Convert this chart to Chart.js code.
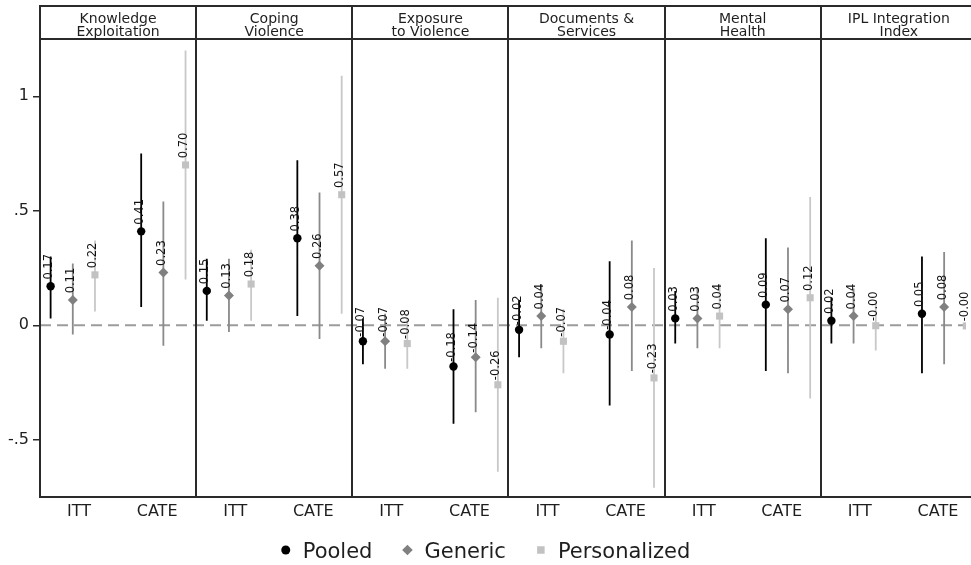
<!DOCTYPE html>
<html>
<head>
<meta charset="utf-8">
<script src="https://cdn.jsdelivr.net/npm/chart.js@4.4.1/dist/chart.umd.min.js"></script>
<style>
  html, body { margin: 0; padding: 0; background: #ffffff; }
  canvas { display: block; }
</style>
</head>
<body>
<canvas id="chart" width="971" height="565"></canvas>
<script>
// Outcome panels (two-line strip titles) and the two estimands shown in each
const outcomes = [
  ["Knowledge", "Exploitation"],
  ["Coping", "Violence"],
  ["Exposure", "to Violence"],
  ["Documents &", "Services"],
  ["Mental", "Health"],
  ["IPL Integration", "Index"]
];
const estimands = ["ITT", "CATE"];
const seriesNames = ["Pooled", "Generic", "Personalized"];

// Point estimates and 95% CI bounds, outcome by outcome: ITT then CATE
const pooledEst = [0.17, 0.41, 0.15, 0.38, -0.07, -0.18, -0.02, -0.04, 0.03, 0.09, 0.02, 0.05];
const pooledLo  = [0.03, 0.08, 0.02, 0.04, -0.17, -0.43, -0.14, -0.35, -0.08, -0.20, -0.08, -0.21];
const pooledHi  = [0.30, 0.75, 0.29, 0.72, 0.03, 0.07, 0.11, 0.28, 0.15, 0.38, 0.12, 0.30];

const genericEst = [0.11, 0.23, 0.13, 0.26, -0.07, -0.14, 0.04, 0.08, 0.03, 0.07, 0.04, 0.08];
const genericLo  = [-0.04, -0.09, -0.03, -0.06, -0.19, -0.38, -0.10, -0.20, -0.10, -0.21, -0.08, -0.17];
const genericHi  = [0.27, 0.54, 0.29, 0.58, 0.05, 0.11, 0.18, 0.37, 0.16, 0.34, 0.16, 0.32];

const personalizedEst = [0.22, 0.70, 0.18, 0.57, -0.08, -0.26, -0.07, -0.23, 0.04, 0.12, -0.002, -0.003];
const personalizedLo  = [0.06, 0.20, 0.02, 0.05, -0.19, -0.64, -0.21, -0.71, -0.10, -0.32, -0.11, -0.38];
const personalizedHi  = [0.37, 1.20, 0.33, 1.09, 0.03, 0.12, 0.07, 0.25, 0.18, 0.56, 0.11, 0.38];

const yTickValues = [-0.5, 0, 0.5, 1];
const yTickLabels = ["-.5", "0", ".5", "1"];

// ---- layout of the panelled x axis: one unit per outcome panel ----
const FONT = "'DejaVu Sans', 'Liberation Sans', sans-serif";
const visiblePanels = 5.93;          // the last panel runs past the right edge
const labelPos = [0.25, 0.75];       // estimand label positions inside a panel
const groupCenter = [0.21, 0.79];    // centre of each marker cluster
const seriesGap = 0.142;             // spacing between the three series

const seriesData = [
  { est: pooledEst, lo: pooledLo, hi: pooledHi },
  { est: genericEst, lo: genericLo, hi: genericHi },
  { est: personalizedEst, lo: personalizedLo, hi: personalizedHi }
];
const seriesStyle = [
  { marker: '#000000', bar: '#000000', pointStyle: 'circle', radius: 4.2 },
  { marker: '#808080', bar: '#8a8a8a', pointStyle: 'rectRot', radius: 5.0 },
  { marker: '#c2c2c2', bar: '#c8c8c8', pointStyle: 'rect', radius: 5.0 }
];

function xFor(idx, s) {
  const o = Math.floor(idx / estimands.length);
  const g = idx % estimands.length;
  return o + groupCenter[g] + (s - 1) * seriesGap;
}

const datasets = [];
// dashed reference line at zero
datasets.push({
  type: 'line',
  data: [{ x: 0, y: 0 }, { x: visiblePanels, y: 0 }],
  borderColor: '#9c9c9c',
  borderWidth: 2,
  borderDash: [11, 6],
  pointRadius: 0,
  order: 10
});
// confidence intervals as vertical segments
seriesData.forEach((sd, s) => {
  const pts = [];
  sd.est.forEach((_, i) => {
    const x = xFor(i, s);
    pts.push({ x, y: sd.lo[i] }, { x, y: sd.hi[i] }, { x, y: null });
  });
  datasets.push({
    type: 'line',
    data: pts,
    borderColor: seriesStyle[s].bar,
    borderWidth: 1.8,
    pointRadius: 0,
    spanGaps: false,
    order: 5
  });
});
// point estimates
seriesData.forEach((sd, s) => {
  datasets.push({
    type: 'scatter',
    label: seriesNames[s],
    data: sd.est.map((v, i) => ({ x: xFor(i, s), y: v })),
    backgroundColor: seriesStyle[s].marker,
    borderColor: seriesStyle[s].marker,
    borderWidth: 0,
    pointStyle: seriesStyle[s].pointStyle,
    pointRadius: seriesStyle[s].radius,
    pointHoverRadius: seriesStyle[s].radius,
    order: 1,
    isEstimate: true
  });
});

const frameColor = '#2a2a2a';

// panel frame, strip titles and the series key
const panelPlugin = {
  id: 'panels',
  afterDraw(chart) {
    const { ctx, chartArea } = chart;
    const xs = chart.scales.x;
    const stripTop = 6;
    ctx.save();
    ctx.strokeStyle = frameColor;
    ctx.lineWidth = 2;
    ctx.beginPath();
    ctx.moveTo(chartArea.left, stripTop); ctx.lineTo(chart.width, stripTop);
    ctx.moveTo(chartArea.left, chartArea.top); ctx.lineTo(chart.width, chartArea.top);
    ctx.moveTo(chartArea.left - 1, chartArea.bottom); ctx.lineTo(chart.width, chartArea.bottom);
    for (let p = 0; p < outcomes.length; p++) {
      const px = Math.round(xs.getPixelForValue(p));
      ctx.moveTo(px, stripTop - 1); ctx.lineTo(px, chartArea.bottom + 1);
    }
    ctx.stroke();

    // strip titles
    ctx.fillStyle = '#1e1e1e';
    ctx.font = '14px ' + FONT;
    ctx.textAlign = 'center';
    ctx.textBaseline = 'alphabetic';
    outcomes.forEach((lines, p) => {
      const cx = (xs.getPixelForValue(p) + xs.getPixelForValue(p + 1)) / 2;
      lines.forEach((t, k) => ctx.fillText(t, cx, 23 + k * 13));
    });

    // series key
    ctx.font = '21px ' + FONT;
    const symGap = 17, itemGap = 35;
    const widths = seriesNames.map(n => ctx.measureText(n).width);
    let total = 5;
    widths.forEach((w, i) => { total += symGap + w + (i < widths.length - 1 ? itemGap : 0); });
    let x = chart.width / 2 - total / 2 + 5;
    const ky = 550;
    ctx.textAlign = 'left';
    seriesNames.forEach((n, i) => {
      const st = seriesStyle[i];
      ctx.fillStyle = st.marker;
      ctx.strokeStyle = st.marker;
      Chart.helpers.drawPoint(ctx, { pointStyle: st.pointStyle, radius: st.radius + 0.3, borderWidth: 0 }, x, ky);
      ctx.fillStyle = '#1e1e1e';
      ctx.fillText(n, x + symGap, 558);
      x += symGap + widths[i] + itemGap;
    });
    ctx.restore();
  }
};

// rotated value labels above each estimate
const valueLabelPlugin = {
  id: 'valueLabels',
  afterDatasetsDraw(chart) {
    const { ctx } = chart;
    ctx.save();
    ctx.fillStyle = '#111111';
    ctx.font = '11.5px ' + FONT;
    ctx.textAlign = 'center';
    ctx.textBaseline = 'alphabetic';
    chart.data.datasets.forEach((ds, di) => {
      if (!ds.isEstimate) return;
      const meta = chart.getDatasetMeta(di);
      meta.data.forEach((pt, i) => {
        const v = ds.data[i].y;
        ctx.save();
        ctx.translate(pt.x + 1.5, pt.y - 19.5);
        ctx.rotate(-Math.PI / 2);
        ctx.fillText(v.toFixed(2), 0, 0);
        ctx.restore();
      });
    });
    ctx.restore();
  }
};

const xTicks = [];
outcomes.forEach((_, p) => labelPos.forEach(lp => xTicks.push(p + lp)));

new Chart(document.getElementById('chart'), {
  data: { datasets },
  options: {
    responsive: false,
    animation: false,
    devicePixelRatio: 1,
    layout: { padding: { top: 39, left: 0, right: 0, bottom: 0 } },
    plugins: { legend: { display: false }, tooltip: { enabled: false } },
    scales: {
      x: {
        type: 'linear',
        min: 0,
        max: visiblePanels,
        afterBuildTicks(scale) { scale.ticks = xTicks.map(v => ({ value: v })); },
        afterFit(scale) { scale.height = 68; },
        grid: { display: false, drawTicks: false },
        border: { display: false },
        ticks: {
          autoSkip: false,
          maxRotation: 0,
          padding: 5,
          color: '#1e1e1e',
          font: { family: FONT, size: 16 },
          callback(v) {
            const frac = Math.round((v - Math.floor(v)) * 100) / 100;
            return estimands[labelPos.indexOf(frac)];
          }
        }
      },
      y: {
        type: 'linear',
        min: -0.75,
        max: 1.25,
        afterBuildTicks(scale) { scale.ticks = yTickValues.map(v => ({ value: v })); },
        afterFit(scale) { scale.width = 40; },
        grid: { drawOnChartArea: false, drawTicks: true, tickLength: 7, color: frameColor, lineWidth: 1.5 },
        border: { display: true, color: frameColor, width: 2 },
        ticks: {
          padding: 4,
          color: '#1e1e1e',
          font: { family: FONT, size: 16 },
          callback(v) { return yTickLabels[yTickValues.indexOf(v)]; }
        }
      }
    }
  },
  plugins: [panelPlugin, valueLabelPlugin]
});
</script>
</body>
</html>
